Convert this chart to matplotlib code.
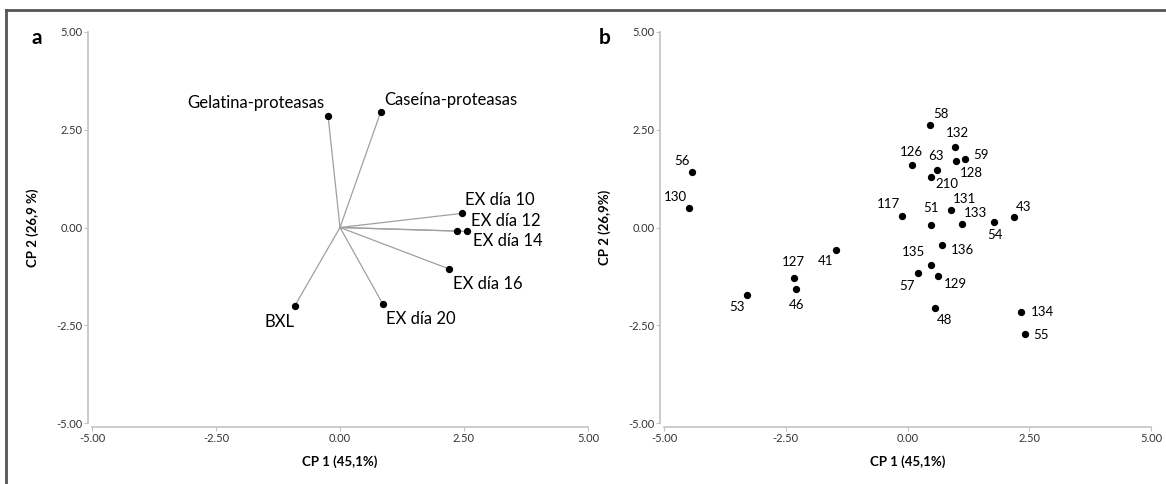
import matplotlib
matplotlib.use("Agg")
import matplotlib.pyplot as plt
from matplotlib.lines import Line2D

plt.rcParams['font.family'] = ['Lato', 'DejaVu Sans']

# panel a: loadings (biplot vectors)
load_names = ["Gelatina-proteasas", "Caseína-proteasas", "EX día 10", "EX día 12",
              "EX día 14", "EX día 16", "EX día 20", "BXL"]
load_x = [-0.24, 0.82, 2.45, 2.36, 2.56, 2.20, 0.86, -0.91]
load_y = [2.85, 2.95, 0.36, -0.09, -0.10, -1.06, -1.95, -2.00]

# panel b: scores of the strains
strain_ids = ["58", "132", "126", "63", "59", "128", "210", "56", "130", "117",
              "51", "131", "133", "54", "43", "41", "136", "135", "127", "46",
              "57", "129", "53", "48", "134", "55"]
score_x = [0.47, 0.98, 0.10, 0.61, 1.18, 1.00, 0.49, -4.42, -4.49, -0.12,
           0.48, 0.89, 1.11, 1.78, 2.18, -1.46, 0.71, 0.49, -2.33, -2.29,
           0.21, 0.62, -3.29, 0.56, 2.33, 2.41]
score_y = [2.62, 2.06, 1.59, 1.46, 1.76, 1.70, 1.30, 1.43, 0.51, 0.30,
           0.07, 0.46, 0.10, 0.14, 0.26, -0.57, -0.46, -0.95, -1.28, -1.58,
           -1.17, -1.25, -1.73, -2.05, -2.17, -2.73]

ticks = [-5.0, -2.5, 0.0, 2.5, 5.0]

# label placement (offset in points, horizontal alignment)
load_offsets = [(-2.7, 9.6, "right"), (2.4, 9.1, "left"), (2.2, 9.6, "left"),
                (10.3, 7.2, "left"), (4.3, -6.7, "left"), (2.7, -10.6, "left"),
                (2.4, -10.8, "left"), (-11.4, -11.8, "center")]
score_offsets = [(7.9, 7.9), (1.9, 10.1), (-0.5, 9.4), (-1.1, 10.3), (11.4, 2.6),
                 (10.8, -8.9), (11.4, -5.3), (-7.6, 7.7), (-10.0, 7.4), (-9.8, 8.2),
                 (0.3, 11.8), (10.0, 7.7), (9.8, 7.9), (0.5, -9.4), (7.0, 7.7),
                 (-7.6, -8.4), (14.6, -3.4), (-12.7, 8.9), (-0.3, 11.5), (0.3, -11.3),
                 (-7.9, -8.9), (12.7, -5.3), (-7.3, -8.6), (7.3, -8.9), (15.7, 0.2),
                 (11.9, -0.2)]

W, H = 1166, 484
fig = plt.figure(figsize=(W / 100, H / 100), dpi=100)


def make_axes(x0, x1, ylabel):
    ax = fig.add_axes([x0 / W, 1 - 423 / H, (x1 - x0) / W, (423 - 32) / H])
    ax.set_xlim(-5, 5)
    ax.set_ylim(-5, 5)
    ax.set_xticks(ticks)
    ax.set_yticks(ticks)
    ax.set_xticklabels([f"{t:.2f}" for t in ticks])
    ax.set_yticklabels([f"{t:.2f}" for t in ticks])
    for s in ["top", "right"]:
        ax.spines[s].set_visible(False)
    for s in ["left", "bottom"]:
        ax.spines[s].set_color("#c2c2c2")
        ax.spines[s].set_linewidth(1.2)
        ax.spines[s].set_position(("outward", 3))
    ax.tick_params(length=3, width=0.8, color="#c2c2c2", labelsize=8,
                   labelcolor="#333333", pad=1)
    ax.set_xlabel("CP 1 (45,1%)", fontsize=9.5, fontweight="bold", labelpad=8)
    ax.set_ylabel(ylabel, fontsize=9.5, fontweight="bold", labelpad=12)
    return ax


ax1 = make_axes(92, 588, "CP 2 (26,9 %)")
for x, y in zip(load_x, load_y):
    ax1.plot([0, x], [0, y], color="#a0a0a0", lw=0.9, zorder=1)
ax1.scatter(load_x, load_y, s=18, color="black", zorder=3)
for name, x, y, (dx, dy, ha) in zip(load_names, load_x, load_y, load_offsets):
    ax1.annotate(name, (x, y), xytext=(dx, dy), textcoords="offset points",
                 ha=ha, va="center", fontsize=12)

ax2 = make_axes(664, 1151, "CP 2 (26,9%)")
ax2.scatter(score_x, score_y, s=18, color="black", zorder=3)
for sid, x, y, (dx, dy) in zip(strain_ids, score_x, score_y, score_offsets):
    ax2.annotate(sid, (x, y), xytext=(dx, dy), textcoords="offset points",
                 ha="center", va="center", fontsize=9.5)

fig.text(37 / W, 1 - 38 / H, "a", fontsize=15, fontweight="bold", ha="center", va="center")
fig.text(605 / W, 1 - 38 / H, "b", fontsize=15, fontweight="bold", ha="center", va="center")

# outer frame (only top and left edges visible)
fig.add_artist(Line2D([6 / W, 1], [1 - 10 / H, 1 - 10 / H], color="#555555", lw=2))
fig.add_artist(Line2D([6 / W, 6 / W], [1 - 10 / H, 0], color="#555555", lw=2))

fig.savefig("out.png", dpi=100)
